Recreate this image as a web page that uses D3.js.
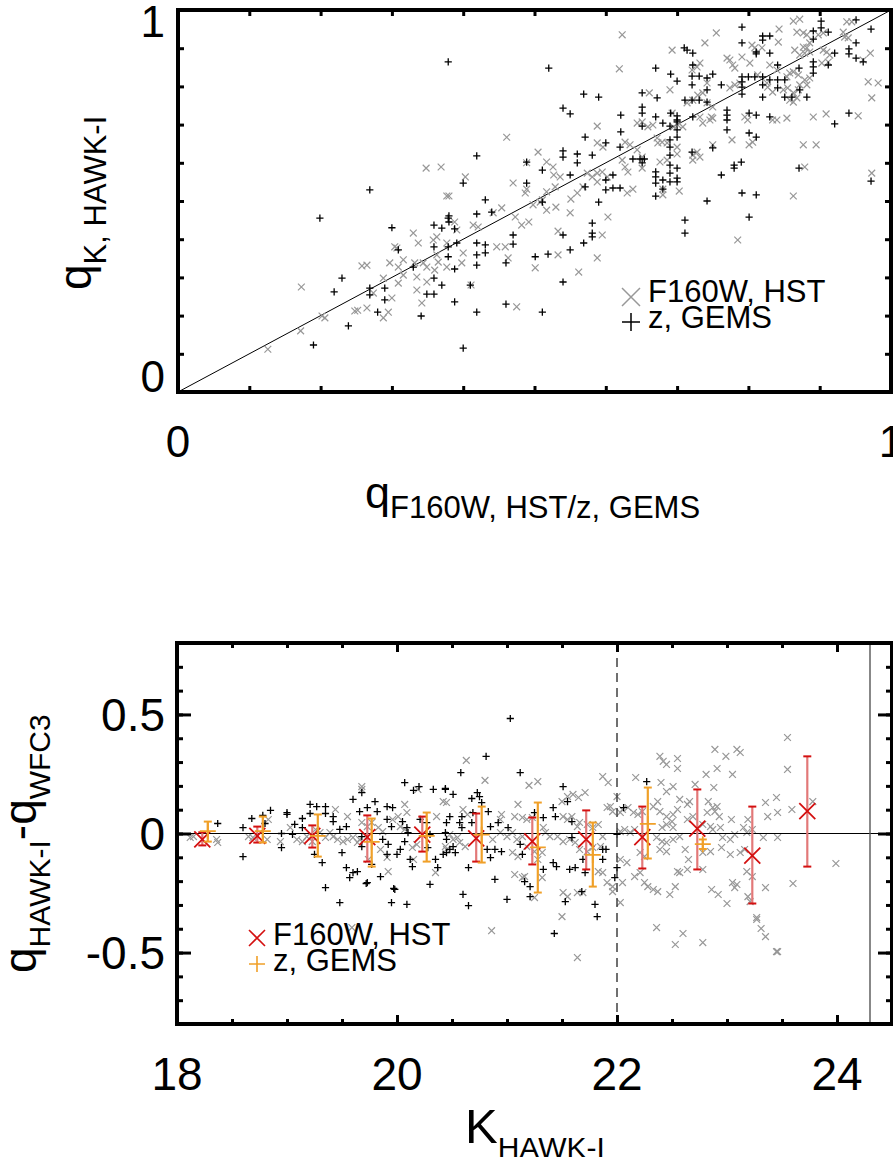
<!DOCTYPE html>
<html>
<head>
<meta charset="utf-8">
<script src="https://cdn.jsdelivr.net/npm/d3@7"></script>
<style>
  html, body { margin: 0; padding: 0; background: #fff; }
  text { font-family: "Liberation Sans", Arial, Helvetica, sans-serif; fill: #000; }
</style>
</head>
<body>
<script>
// ---- top panel: q(K, HAWK-I) vs q(F160W HST / z GEMS) ----
const topHst = [
  [.126,.112],[.172,.160],[.202,.199],[.206,.194],[.248,.212],[.252,.214],[.265,.22],[.288,.194],[.295,.209],[.173,.275],
  [.258,.33],[.265,.332],[.274,.259],[.288,.298],[.300,.246],[.297,.338],[.304,.38],[.307,.377],[.309,.327],[.316,.346],
  [.309,.285],[.316,.306],[.330,.416],[.337,.390],[.332,.338],[.335,.301],[.335,.267],[.342,.233],[.344,.338],[.349,.327],
  [.349,.288],[.358,.398],[.363,.406],[.363,.359],[.360,.319],[.365,.34],[.348,.586],[.369,.589],[.377,.513],[.377,.39],
  [.377,.327],[.623,.935],[.619,.846],[.755,.940],[.739,.914],[.693,.895],[.461,.667],[.403,.563],[.380,.513],[.470,.547],
  [.489,.600],[.489,.531],[.487,.521],[.505,.628],[.517,.602],[.526,.589],[.517,.524],[.529,.537],[.508,.497],[.498,.490],
  [.517,.476],[.530,.484],[.527,.568],[.536,.563],[.454,.482],[.442,.469],[.473,.458],[.482,.437],[.492,.445],[.414,.437],
  [.421,.432],[.388,.445],[.391,.424],[.400,.364],[.398,.338],[.411,.280],[.447,.380],[.459,.380],[.463,.351],[.475,.223],
  [.501,.325],[.511,.503],[.533,.421],[.533,.359],[.550,.469],[.551,.505],[.560,.521],[.568,.537],[.562,.314],[.588,.696],
  [.588,.652],[.596,.641],[.574,.573],[.581,.563],[.588,.573],[.588,.55],[.595,.576],[.602,.563],[.595,.411],[.603,.458],
  [.588,.351],[.627,.654],[.634,.647],[.623,.607],[.627,.589],[.631,.576],[.638,.531],[.630,.521],[.644,.704],[.651,.707],
  [.659,.694],[.666,.699],[.644,.634],[.651,.615],[.651,.586],[.661,.783],[.672,.665],[.673,.652],[.679,.654],[.686,.652],
  [.676,.602],[.686,.607],[.680,.531],[.680,.516],[.690,.791],[.693,.730],[.695,.694],[.701,.699],[.708,.694],[.700,.623],
  [.700,.641],[.703,.526],[.714,.757],[.722,.764],[.721,.843],[.728,.851],[.732,.861],[.729,.777],[.736,.783],[.732,.720],
  [.736,.704],[.746,.712],[.722,.620],[.728,.628],[.732,.615],[.722,.607],[.742,.809],[.742,.757],[.750,.746],[.748,.72],
  [.750,.717],[.750,.647],[.770,.874],[.774,.869],[.778,.856],[.781,.848],[.774,.796],[.781,.804],[.788,.809],[.777,.660],
  [.785,.398],[.791,.877],[.795,.720],[.799,.712],[.801,.647],[.806,.654],[.805,.908],[.809,.901],[.802,.861],[.813,.830],
  [.819,.901],[.826,.809],[.827,.798],[.834,.785],[.830,.856],[.834,.712],[.840,.712],[.854,.717],[.843,.950],[.842,.916],
  [.840,.843],[.854,.825],[.858,.835],[.863,.838],[.849,.791],[.855,.796],[.863,.783],[.870,.791],[.858,.764],[.863,.759],
  [.868,.770],[.865,.895],[.863,.971],[.872,.976],[.868,.942],[.877,.940],[.882,.935],[.877,.903],[.882,.901],[.886,.914],
  [.872,.882],[.879,.887],[.886,.890],[.870,.830],[.879,.817],[.886,.822],[.872,.804],[.882,.804],[.879,.589],[.877,.647],
  [.895,.647],[.891,.720],[.909,.728],[.905,.895],[.910,.890],[.914,.882],[.912,.864],[.903,.861],[.898,.935],[.905,.940],
  [.933,.942],[.935,.929],[.940,.927],[.938,.969],[.945,.969],[.954,.723],[.968,.812],[.982,.809],[.973,.770],[.971,.887],
  [.961,.869],[.973,.573],[.863,.513]
];
const topGems = [
  [.379,.864],[.269,.529],[.199,.455],[.300,.43],[.230,.298],[.219,.262],[.269,.272],[.269,.254],[.290,.272],[.290,.241],
  [.280,.209],[.239,.173],[.190,.123],[.309,.372],[.330,.327],[.341,.199],[.349,.256],[.359,.256],[.359,.298],[.359,.380],
  [.359,.437],[.370,.429],[.370,.280],[.379,.455],[.379,.380],[.379,.354],[.520,.848],[.569,.780],[.590,.772],[.540,.743],
  [.550,.728],[.621,.725],[.621,.681],[.571,.667],[.540,.631],[.540,.615],[.560,.623],[.560,.600],[.581,.620],[.600,.652],
  [.620,.641],[.511,.581],[.489,.602],[.489,.547],[.550,.568],[.571,.537],[.590,.497],[.600,.555],[.600,.529],[.610,.568],
  [.610,.534],[.620,.534],[.419,.618],[.400,.547],[.431,.503],[.440,.471],[.419,.466],[.380,.461],[.380,.445],[.388,.427],
  [.470,.411],[.470,.387],[.511,.497],[.391,.39],[.419,.39],[.419,.359],[.431,.385],[.431,.364],[.419,.332],[.388,.322],
  [.410,.28],[.388,.236],[.419,.209],[.400,.115],[.460,.338],[.460,.230],[.501,.354],[.519,.361],[.511,.209],[.540,.411],
  [.550,.372],[.540,.288],[.569,.39],[.581,.442],[.581,.416],[.581,.406],[.651,.783],[.651,.746],[.651,.730],[.651,.696],
  [.670,.848],[.672,.770],[.670,.720],[.691,.832],[.700,.814],[.691,.730],[.700,.723],[.700,.707],[.710,.901],[.714,.895],
  [.722,.887],[.722,.856],[.721,.827],[.731,.827],[.742,.822],[.750,.832],[.721,.804],[.721,.764],[.731,.764],[.742,.791],
  [.711,.764],[.742,.759],[.722,.720],[.680,.704],[.690,.696],[.700,.712],[.700,.686],[.700,.667],[.690,.660],[.690,.641],
  [.690,.62],[.670,.576],[.670,.563],[.670,.547],[.680,.555],[.690,.594],[.690,.573],[.700,.586],[.700,.56],[.700,.55],
  [.690,.55],[.670,.513],[.680,.531],[.638,.610],[.648,.610],[.654,.610],[.651,.600],[.711,.450],[.711,.416],[.721,.628],
  [.742,.500],[.750,.639],[.762,.568],[.762,.804],[.770,.738],[.770,.725],[.770,.712],[.770,.686],[.780,.594],[.780,.586],
  [.790,.602],[.791,.955],[.791,.914],[.791,.825],[.791,.812],[.791,.798],[.791,.780],[.800,.825],[.809,.825],[.791,.521],
  [.811,.516],[.801,.458],[.801,.730],[.811,.725],[.801,.678],[.811,.667],[.811,.890],[.811,.885],[.820,.932],[.820,.921],
  [.830,.932],[.830,.887],[.820,.825],[.820,.804],[.830,.817],[.820,.772],[.830,.720],[.841,.856],[.841,.817],[.841,.796],
  [.851,.817],[.851,.772],[.861,.772],[.872,.791],[.882,.772],[.871,.848],[.871,.586],[.891,.945],[.902,.971],[.902,.953],
  [.912,.942],[.891,.924],[.891,.864],[.891,.851],[.891,.835],[.912,.856],[.921,.887],[.921,.702],[.941,.898],[.941,.885],
  [.951,.974],[.951,.914],[.951,.874],[.961,.864],[.941,.730],[.972,.950],[.972,.552]
];

// ---- bottom panel: q difference vs K magnitude ----
const botHst = [
  [18.12,-.017],[18.15,-.013],[18.36,-.025],[18.37,-.038],[18.65,-.013],[18.69,-.017],[18.82,-.025],[18.83,.059],[18.94,-.034],[19.09,-.025],
  [19.14,-.034],[19.03,.025],[19.18,-.013],[19.23,-.034],[19.26,.017],[19.30,.004],[19.35,-.017],[19.39,.004],[19.44,.101],[19.42,-.013],
  [19.46,-.025],[19.51,-.034],[19.55,-.025],[19.55,.071],[19.60,-.017],[19.64,-.038],[19.66,-.025],[19.68,.197],[19.68,.185],[19.68,.046],
  [19.73,.029],[19.77,.046],[19.74,-.109],[19.83,.025],[19.87,.008],[19.85,-.067],[19.91,-.101],[19.92,-.160],[19.96,.059],[20.01,.071],
  [20.03,.029],[20.07,.017],[20.07,.122],[20.09,.088],[20.14,-.059],[20.18,-.046],[20.15,-.109],[20.19,.185],[20.35,-.164],[20.36,.071],
  [20.42,.134],[20.44,-.055],[20.45,-.067],[20.63,.307],[20.80,.223],[21.20,.202],[21.28,.218],[20.45,.130],[20.60,.101],[20.64,.08],
  [20.95,.08],[20.94,.059],[21.10,.122],[21.07,.071],[21.14,.067],[21.18,.059],[21.23,.067],[21.33,.025],[21.35,.004],[21.39,-.013],
  [20.94,.004],[21.0,-.013],[20.87,-.025],[21.05,.004],[21.09,-.025],[21.14,-.013],[20.48,-.004],[20.51,-.025],[20.55,-.017],[20.57,-.038],
  [20.62,-.055],[21.05,-.080],[21.10,-.097],[21.18,-.055],[21.25,-.076],[21.32,-.080],[21.28,-.109],[21.07,-.172],[21.14,-.185],[21.16,-.181],
  [21.25,-.269],[21.32,-.185],[21.50,.134],[21.55,.155],[21.60,.164],[21.65,.151],[21.71,.172],[21.51,.071],[21.55,.059],[21.59,.071],
  [21.64,.029],[21.66,.046],[21.73,.038],[21.78,.025],[21.83,.038],[21.46,-.013],[21.51,-.034],[21.57,-.025],[21.62,-.038],[21.66,-.067],
  [21.73,-.076],[21.78,-.059],[21.85,-.055],[21.87,-.013],[21.83,-.160],[21.87,-.164],[21.91,-.206],[21.96,-.223],[21.96,-.244],[21.51,-.248],
  [21.55,-.265],[21.64,-.248],[21.69,-.248],[21.50,-.349],[21.87,.239],[21.92,.214],[22.0,.155],[22.03,.088],[21.91,.109],[21.94,.113],
  [21.96,.092],[22.05,.101],[22.10,.109],[22.03,.008],[22.07,.017],[22.12,.004],[22.16,.017],[22.03,-.109],[22.09,-.122],[22.05,-.206],
  [22.03,-.29],[22.17,.235],[22.15,.088],[22.19,.08],[22.23,.092],[22.16,-.181],[22.21,-.164],[22.21,-.080],[22.25,-.097],[22.25,-.206],
  [22.28,-.223],[22.33,-.235],[22.37,-.244],[22.33,.113],[22.37,.134],[22.39,.324],[22.42,.303],[22.45,.290],[22.55,.315],[22.55,.273],
  [22.40,.214],[22.45,.176],[22.51,.197],[22.39,.092],[22.45,.071],[22.51,.08],[22.55,.101],[22.41,.025],[22.45,.038],[22.50,.050],
  [22.51,.025],[22.36,-.017],[22.41,-.034],[22.45,-.038],[22.51,-.025],[22.57,-.013],[22.39,-.067],[22.45,-.076],[22.55,-.160],[22.57,-.164],
  [22.64,-.151],[22.53,-.223],[22.48,-.256],[22.57,.143],[22.64,.122],[22.66,.134],[22.64,.059],[22.69,.071],[22.62,-.067],[22.65,-.109],
  [22.71,.206],[22.81,.248],[22.88,.193],[22.89,.353],[22.91,.273],[22.99,.324],[23.05,.248],[23.09,.353],[23.12,.340],[22.83,.134],
  [22.87,.109],[22.91,.113],[22.82,.088],[22.89,.092],[22.93,.071],[22.78,.038],[22.85,.029],[22.87,.017],[22.94,.025],[23.04,.059],
  [22.96,-.017],[23.03,-.025],[23.07,-.004],[22.78,-.080],[22.85,-.076],[22.95,-.059],[23.03,-.088],[22.78,-.151],[22.86,-.235],[22.92,-.256],
  [23.0,-.294],[23.05,-.206],[23.09,-.214],[23.07,-.227],[23.15,.025],[23.18,.004],[23.23,.017],[23.19,.059],[23.12,-.080],[23.16,-.067],
  [23.18,-.160],[23.23,-.181],[23.19,-.265],[23.21,-.286],[23.27,-.353],[23.33,-.017],[23.35,.130],[23.37,.071],[23.45,.151],[23.46,.088],
  [23.46,-.017],[23.35,-.227],[23.55,.403],[23.55,.269],[23.59,.101],[23.60,-.210],[23.78,.134],[23.99,-.126],[20.86,-.408],[21.64,-.521],
  [22.36,-.395],[22.53,-.466],[22.60,-.420],[22.78,-.458],[23.27,-.361],[23.31,-.399],[23.35,-.433],[23.45,-.496],[23.46,-.496],[19.59,-.395]
];
const botGems = [
  [18.37,.042],[18.60,.025],[18.60,-.097],[18.68,.063],[18.78,.076],[18.85,.097],[18.80,.042],[18.95,0],[18.95,-.059],[19.0,.088],
  [19.0,.08],[19.05,-.004],[19.07,.038],[19.14,.063],[19.14,.025],[19.21,.122],[19.27,.113],[19.35,.113],[19.21,.084],[19.35,.084],
  [19.42,.071],[19.42,.050],[19.25,-.088],[19.32,-.122],[19.35,-.227],[19.48,-.29],[19.48,.017],[19.54,.029],[19.50,-.080],[19.54,-.143],
  [19.60,-.164],[19.64,-.160],[19.57,-.185],[19.60,.143],[19.66,.092],[19.68,.172],[19.68,-.013],[19.68,-.055],[19.73,.109],[19.80,.134],
  [19.82,.092],[19.73,-.206],[19.77,-.130],[19.85,-.181],[19.91,.113],[19.96,.109],[19.91,.059],[19.95,.029],[19.87,-.025],[19.92,-.046],
  [19.91,-.088],[19.98,-.235],[19.95,-.29],[20.09,-.298],[20.0,-.088],[20.05,.05],[20.07,.214],[20.15,.181],[20.2,.197],[20.09,.025],
  [20.1,.004],[20.07,-.034],[20.03,-.067],[20.12,-.109],[20.14,-.139],[20.30,-.214],[20.33,.185],[20.44,.185],[20.21,.059],[20.27,.046],
  [20.30,-.004],[20.28,-.059],[20.35,-.109],[20.37,-.143],[20.45,-.080],[19.72,-.210],[19.97,-.231],[21.03,.483],[20.81,.324],[20.58,.256],
  [21.12,.256],[20.44,.189],[20.51,.164],[20.68,.147],[20.73,.172],[20.75,.155],[20.77,.130],[20.83,.092],[20.69,.088],[20.68,.046],
  [20.59,.071],[20.57,.046],[20.59,.025],[20.48,.071],[20.45,.046],[20.85,.029],[20.92,.046],[21.01,.025],[20.44,.004],[20.45,-.025],
  [20.51,-.055],[20.48,-.067],[20.53,-.080],[20.42,-.088],[20.82,-.067],[20.85,-.101],[20.89,-.067],[20.95,-.076],[20.65,-.143],[20.89,-.193],
  [20.60,-.256],[20.65,-.303],[21.0,-.277],[21.12,-.046],[21.14,-.088],[21.16,-.202],[21.21,-.223],[21.21,-.265],[21.25,.088],[21.33,.067],
  [21.33,-.151],[21.42,.109],[21.44,.071],[21.42,-.122],[21.45,-.139],[21.51,.197],[21.55,.134],[21.59,.05],[21.59,-.017],[21.57,-.151],
  [21.62,-.143],[21.53,-.286],[21.69,-.109],[21.71,-.164],[21.68,-.244],[21.80,-.298],[21.82,-.349],[21.87,-.067],[21.90,-.067],[21.87,-.109],
  [22.0,-.004],[22.0,-.143],[21.98,-.185],[22.06,.109],[22.27,.218],[21.43,-.420]
];

// binned medians with error bars
const binKHst   = [18.23, 18.73, 19.23, 19.73, 20.23, 20.72, 21.23, 21.72, 22.23, 22.73, 23.23, 23.73];
const binMedHst = [-.025, -.01, -.01, -.015, -.005, -.02, -.033, -.025, -.015, .02, -.093, .094];
const binHiHst  = [.005, .029, .034, .076, .071, .084, .067, .097, .113, .185, .113, .324];
const binLoHst  = [-.05, -.038, -.059, -.118, -.076, -.118, -.130, -.151, -.147, -.151, -.294, -.139];

const binKGems   = [18.28, 18.78, 19.28, 19.77, 20.27, 20.77, 21.28, 21.78, 22.28, 22.78];
const binMedGems = [.01, .01, -.01, -.035, -.01, -.005, -.058, -.09, .04, -.045];
const binHiGems  = [.05, .071, .08, .063, .088, .113, .130, .046, .193, -.025];
const binLoGems  = [-.034, -.038, -.097, -.139, -.118, -.122, -.248, -.223, -.105, -.065];

const kDashed = 22;      // dashed reference line
const kLimit = 24.3;     // solid reference line

const W = 893, H = 1157;
const GRAY = "#989898", RED = "#d41010", PINK = "#e27878", ORANGE = "#f0a028";

const svg = d3.select("body").append("svg")
  .attr("width", W).attr("height", H)
  .style("display", "block");
svg.append("rect").attr("width", W).attr("height", H).attr("fill", "#fff");

const crossPath = s => `M${-s},${-s}L${s},${s}M${-s},${s}L${s},${-s}`;
const plusPath = s => `M${-s},0H${s}M0,${-s}V${s}`;

// inward ticks on all four sides, then thick frame
function frame(g, x, y, xTicks, yTicks) {
  // xTicks / yTicks: [{values, size}]
  xTicks.forEach(t => {
    g.append("g").attr("transform", `translate(0,${y.range()[0]})`)
      .call(d3.axisBottom(x).tickValues(t.values).tickSize(-t.size).tickFormat(""));
    g.append("g").attr("transform", `translate(0,${y.range()[1]})`)
      .call(d3.axisTop(x).tickValues(t.values).tickSize(-t.size).tickFormat(""));
  });
  yTicks.forEach(t => {
    g.append("g").attr("transform", `translate(${x.range()[0]},0)`)
      .call(d3.axisLeft(y).tickValues(t.values).tickSize(-t.size).tickFormat(""));
    g.append("g").attr("transform", `translate(${x.range()[1]},0)`)
      .call(d3.axisRight(y).tickValues(t.values).tickSize(-t.size).tickFormat(""));
  });
  g.selectAll(".domain").remove();
  g.selectAll(".tick line").attr("stroke", "#000").attr("stroke-width", 3);
  g.append("rect")
    .attr("x", x.range()[0]).attr("y", y.range()[1])
    .attr("width", x.range()[1] - x.range()[0])
    .attr("height", y.range()[0] - y.range()[1])
    .attr("fill", "none").attr("stroke", "#000").attr("stroke-width", 4);
}

// ================= TOP PANEL =================
const xT = d3.scaleLinear().domain([0, 1]).range([178, 891]);
const yT = d3.scaleLinear().domain([0, 1]).range([392, 10]);
const gT = svg.append("g");

gT.append("line")
  .attr("x1", xT(0)).attr("y1", yT(0)).attr("x2", xT(1)).attr("y2", yT(1))
  .attr("stroke", "#000").attr("stroke-width", 1);

gT.append("g").selectAll("path").data(topHst).join("path")
  .attr("transform", d => `translate(${xT(d[0])},${yT(d[1])})`)
  .attr("d", crossPath(3.4)).attr("stroke", GRAY).attr("stroke-width", 1.2).attr("fill", "none");

gT.append("g").selectAll("path").data(topGems).join("path")
  .attr("transform", d => `translate(${xT(d[0])},${yT(d[1])})`)
  .attr("d", plusPath(3.6)).attr("stroke", "#000").attr("stroke-width", 1.3).attr("fill", "none");

const tenths = d3.range(0, 11).map(i => i / 10);
frame(gT, xT, yT, [{values: tenths, size: 6}], [{values: tenths, size: 6}]);

// tick labels
gT.append("text").attr("x", 165).attr("y", yT(1) + 27).attr("text-anchor", "end")
  .attr("font-size", 44).text("1");
gT.append("text").attr("x", 165).attr("y", yT(0)).attr("text-anchor", "end")
  .attr("font-size", 44).text("0");
[0, 1].forEach(v => gT.append("text").attr("x", xT(v)).attr("y", 457)
  .attr("text-anchor", "middle").attr("font-size", 44).text(v));

// axis titles
const tx = gT.append("text").attr("x", 365).attr("y", 508).attr("font-size", 45);
tx.append("tspan").text("q");
tx.append("tspan").attr("font-size", 31).attr("dy", 10).text("F160W, HST/z, GEMS");

const ty = gT.append("text").attr("transform", "translate(91,290) rotate(-90)").attr("font-size", 46);
ty.append("tspan").text("q");
ty.append("tspan").attr("font-size", 31).attr("dy", 15).text("K, HAWK-I");

// legend
gT.append("path").attr("transform", "translate(631,297)").attr("d", crossPath(9))
  .attr("stroke", GRAY).attr("stroke-width", 1.5).attr("fill", "none");
gT.append("text").attr("x", 648).attr("y", 302).attr("font-size", 31).text("F160W, HST");
gT.append("path").attr("transform", "translate(631,322)").attr("d", plusPath(9))
  .attr("stroke", "#000").attr("stroke-width", 1.5).attr("fill", "none");
gT.append("text").attr("x", 648).attr("y", 328).attr("font-size", 31).text("z, GEMS");

// ================= BOTTOM PANEL =================
const xB = d3.scaleLinear().domain([18, 24.5]).range([177, 892]);
const yB = d3.scaleLinear().domain([-0.8, 0.8]).range([1024, 643]);
const gB = svg.append("g");

gB.append("g").selectAll("path").data(botHst).join("path")
  .attr("transform", d => `translate(${xB(d[0])},${yB(d[1])})`)
  .attr("d", crossPath(3.4)).attr("stroke", GRAY).attr("stroke-width", 1.2).attr("fill", "none");

gB.append("g").selectAll("path").data(botGems).join("path")
  .attr("transform", d => `translate(${xB(d[0])},${yB(d[1])})`)
  .attr("d", plusPath(3.6)).attr("stroke", "#000").attr("stroke-width", 1.3).attr("fill", "none");

gB.append("line")
  .attr("x1", xB(18)).attr("x2", xB(24.5)).attr("y1", yB(0)).attr("y2", yB(0))
  .attr("stroke", "#000").attr("stroke-width", 1.2);
gB.append("line")
  .attr("x1", xB(kDashed)).attr("x2", xB(kDashed)).attr("y1", yB(0.8)).attr("y2", yB(-0.8))
  .attr("stroke", "#333").attr("stroke-width", 1.4).attr("stroke-dasharray", "9,6");
gB.append("line")
  .attr("x1", xB(kLimit)).attr("x2", xB(kLimit)).attr("y1", yB(0.8)).attr("y2", yB(-0.8))
  .attr("stroke", "#555").attr("stroke-width", 1.4);

// error bars + binned markers
function bins(kArr, med, lo, hi, barColor, capColor, marker, markColor) {
  const g = gB.append("g");
  const rows = kArr.map((k, i) => ({k, m: med[i], lo: lo[i], hi: hi[i]}));
  g.selectAll("line.bar").data(rows).join("line").attr("class", "bar")
    .attr("x1", d => xB(d.k)).attr("x2", d => xB(d.k))
    .attr("y1", d => yB(d.hi)).attr("y2", d => yB(d.lo))
    .attr("stroke", barColor).attr("stroke-width", 2.2);
  ["hi", "lo"].forEach(key => {
    g.selectAll("line.cap" + key).data(rows).join("line").attr("class", "cap" + key)
      .attr("x1", d => xB(d.k) - 4).attr("x2", d => xB(d.k) + 4)
      .attr("y1", d => yB(d[key])).attr("y2", d => yB(d[key]))
      .attr("stroke", capColor).attr("stroke-width", 2);
  });
  g.selectAll("path").data(rows).join("path")
    .attr("transform", d => `translate(${xB(d.k)},${yB(d.m)})`)
    .attr("d", marker).attr("stroke", markColor).attr("stroke-width", 1.8).attr("fill", "none");
}
bins(binKHst, binMedHst, binLoHst, binHiHst, PINK, RED, crossPath(8), RED);
bins(binKGems, binMedGems, binLoGems, binHiGems, ORANGE, ORANGE, plusPath(8), ORANGE);

frame(gB, xB, yB,
  [{values: d3.range(18, 24.51, 0.5), size: 5}, {values: [18, 20, 22, 24], size: 9}],
  [{values: d3.range(-8, 9).map(i => i / 10), size: 6}, {values: [-0.5, 0, 0.5], size: 14}]);

// tick labels
[0.5, 0, -0.5].forEach(v => gB.append("text")
  .attr("x", 165).attr("y", yB(v)).attr("dy", "0.36em").attr("text-anchor", "end")
  .attr("font-size", 46).text(v));
[18, 20, 22, 24].forEach(v => gB.append("text")
  .attr("x", xB(v)).attr("y", 1090).attr("text-anchor", "middle")
  .attr("font-size", 46).text(v));

// axis titles
const bx = gB.append("text").attr("x", 465).attr("y", 1143).attr("font-size", 49);
bx.append("tspan").text("K");
bx.append("tspan").attr("font-size", 30).attr("dy", 15).text("HAWK-I");

const by = gB.append("text").attr("transform", "translate(36,973) rotate(-90)").attr("font-size", 46);
by.append("tspan").text("q");
by.append("tspan").attr("font-size", 30).attr("dy", 14).text("HAWK-I");
by.append("tspan").attr("dy", -14).text("-q");
by.append("tspan").attr("font-size", 30).attr("dy", 14).text("WFC3");

// legend
gB.append("path").attr("transform", "translate(257,938)").attr("d", crossPath(8))
  .attr("stroke", RED).attr("stroke-width", 1.6).attr("fill", "none");
gB.append("text").attr("x", 273).attr("y", 945).attr("font-size", 31).text("F160W, HST");
gB.append("path").attr("transform", "translate(257,964)").attr("d", plusPath(8))
  .attr("stroke", ORANGE).attr("stroke-width", 1.6).attr("fill", "none");
gB.append("text").attr("x", 273).attr("y", 971).attr("font-size", 31).text("z, GEMS");
</script>
</body>
</html>
